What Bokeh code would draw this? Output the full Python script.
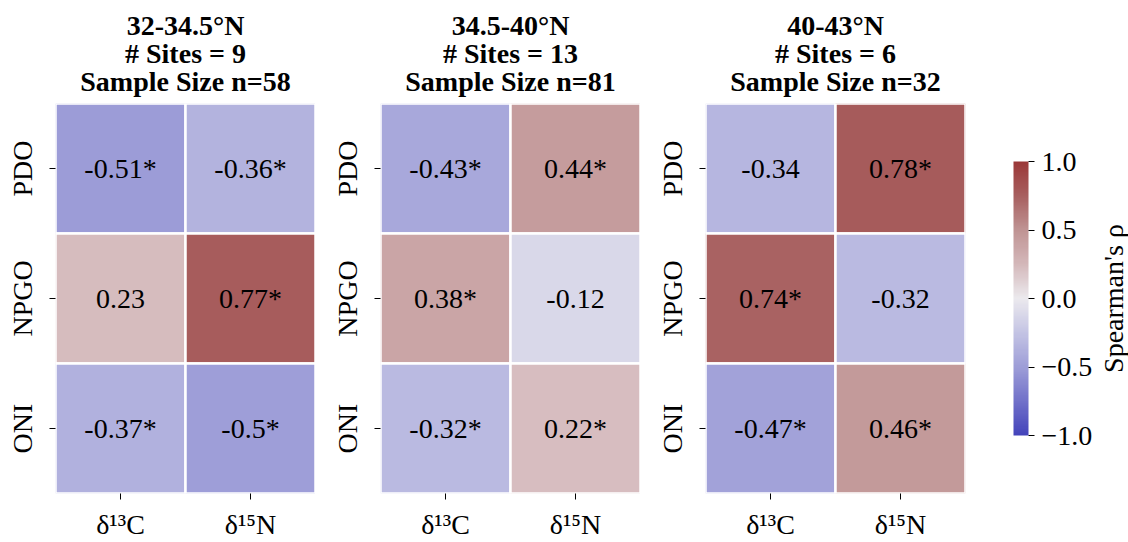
import numpy as np
from bokeh.plotting import figure
from bokeh.layouts import row, column
from bokeh.models import (ColumnDataSource, FactorRange, Range1d, LinearColorMapper, ColorBar,
                          FixedTicker, Title, CustomJSTickFormatter)
from bokeh.transform import transform
from bokeh.core.properties import value
from bokeh.embed import file_html
from bokeh.resources import INLINE

# ---------------- data ----------------
lat_bands = ["32-34.5°N", "34.5-40°N", "40-43°N"]
n_sites = [9, 13, 6]
sample_n = [58, 81, 32]
climate_indices = ["PDO", "NPGO", "ONI"]
isotopes = ["δ¹³C", "δ¹⁵N"]

# Spearman's rho, rows follow climate_indices
rho_band1_d13c = [-0.51, 0.23, -0.37]
rho_band1_d15n = [-0.36, 0.77, -0.5]
sig_band1_d13c = [True, False, True]
sig_band1_d15n = [True, True, True]

rho_band2_d13c = [-0.43, 0.38, -0.32]
rho_band2_d15n = [0.44, -0.12, 0.22]
sig_band2_d13c = [True, True, True]
sig_band2_d15n = [True, False, True]

rho_band3_d13c = [-0.34, 0.74, -0.47]
rho_band3_d15n = [0.78, -0.32, 0.46]
sig_band3_d13c = [False, True, True]
sig_band3_d15n = [True, False, True]

colorbar_ticks = [-1.0, -0.5, 0.0, 0.5, 1.0]
colorbar_title = "Spearman's ρ"

bands = [
    (rho_band1_d13c, rho_band1_d15n, sig_band1_d13c, sig_band1_d15n),
    (rho_band2_d13c, rho_band2_d15n, sig_band2_d13c, sig_band2_d15n),
    (rho_band3_d13c, rho_band3_d15n, sig_band3_d13c, sig_band3_d15n),
]

# ---------------- style ----------------
FONT = "Liberation Serif"
anchor_pos = [-1.0, -0.5, -0.25, 0.0, 0.25, 0.5, 0.75, 1.0]
anchor_rgb = [(68, 68, 187), (158, 158, 216), (196, 196, 228), (236, 234, 238),
              (212, 184, 186), (192, 148, 148), (168, 96, 96), (155, 56, 56)]
grid = np.linspace(-1, 1, 256)
chan = [np.interp(grid, anchor_pos, [c[i] for c in anchor_rgb]) for i in range(3)]
palette = ["#%02x%02x%02x" % (int(round(r)), int(round(g)), int(round(b)))
           for r, g, b in zip(*chan)]
mapper = LinearColorMapper(palette=palette, low=-1, high=1)

FRAME_W, FRAME_H = 260, 390
TOP, BOTTOM = 103, 46
TITLE_CENTERS = [78, 50, 22]   # px above the heatmap's top edge


def make_header(k, left_border):
    h = figure(x_range=Range1d(0, 1), y_range=Range1d(0, TOP),
               frame_width=FRAME_W, frame_height=TOP,
               min_border_left=left_border, min_border_right=0,
               min_border_top=0, min_border_bottom=0, title=None,
               x_axis_location=None, y_axis_location=None,
               toolbar_location=None, tools="", output_backend="svg")
    h.outline_line_color = None
    h.grid.visible = False
    lines = [lat_bands[k], f"# Sites = {n_sites[k]}", f"Sample Size n={sample_n[k]}"]
    h.text(x=[0.5] * 3, y=TITLE_CENTERS, text=lines,
           text_align="center", text_baseline="middle",
           text_font=value(FONT), text_font_size="28px",
           text_font_style="bold", text_color="black")
    return h


def make_panel(k, left_border, right_border):
    d13c, d15n, s13, s15 = bands[k]
    xs, ys, vals, labels = [], [], [], []
    for iso, vv, ss in ((isotopes[0], d13c, s13), (isotopes[1], d15n, s15)):
        for idx, v, s in zip(climate_indices, vv, ss):
            xs.append(iso)
            ys.append(idx)
            vals.append(v)
            labels.append(f"{v}" + ("*" if s else ""))
    src = ColumnDataSource(dict(iso=xs, idx=ys, rho=vals, label=labels))

    p = figure(x_range=FactorRange(*isotopes),
               y_range=FactorRange(*reversed(climate_indices)),
               frame_width=FRAME_W, frame_height=FRAME_H,
               min_border_left=left_border, min_border_right=right_border,
               min_border_top=0, min_border_bottom=BOTTOM, title=None,
               toolbar_location=None, tools="", output_backend="svg")
    p.rect(x="iso", y="idx", width=1, height=1, source=src,
           fill_color=transform("rho", mapper), line_color="white", line_width=2.5)
    p.text(x="iso", y="idx", text="label", source=src,
           text_align="center", text_baseline="middle",
           text_font=value(FONT), text_font_size="28px", text_color="black")

    p.outline_line_color = None
    p.grid.grid_line_color = None
    for ax in (p.xaxis, p.yaxis):
        ax.axis_line_color = None
        ax.major_tick_line_color = "black"
        ax.major_tick_in = 0
        ax.major_tick_out = 6
        ax.minor_tick_line_color = None
        ax.major_label_text_font = FONT
        ax.major_label_text_font_size = "28px"
        ax.major_label_text_color = "black"
    p.xaxis.major_label_standoff = 9
    p.yaxis.major_label_standoff = 12
    p.yaxis.major_label_orientation = "vertical"
    return p


p1 = make_panel(0, 55, 0)
p2 = make_panel(1, 65, 0)
p3 = make_panel(2, 65, 120)
h1 = make_header(0, 55)
h2 = make_header(1, 65)
h3 = make_header(2, 65)

cb = ColorBar(color_mapper=mapper, width=15, height=274, location=(48, 58),
              ticker=FixedTicker(ticks=colorbar_ticks),
              formatter=CustomJSTickFormatter(
                  code="return (tick < 0 ? '\\u2212' : '') + Math.abs(tick).toFixed(1);"),
              major_tick_in=0, major_tick_out=6, major_tick_line_color="black",
              minor_tick_line_color=None, bar_line_color=None,
              border_line_color=None, background_fill_color=None,
              margin=0, padding=0, label_standoff=7,
              major_label_text_font=FONT, major_label_text_font_size="28px",
              major_label_text_color="black")
p3.add_layout(cb, "right")

# narrow holder for the colour-bar caption (reads bottom-to-top on the left side)
p4 = figure(frame_width=1, frame_height=FRAME_H, min_border_left=0, min_border_right=0,
            min_border_top=TOP, min_border_bottom=BOTTOM, title=None,
            x_axis_location=None, y_axis_location=None,
            toolbar_location=None, tools="", output_backend="svg")
p4.outline_line_color = None
p4.grid.grid_line_color = None
p4.add_layout(Title(text=colorbar_title, align="center", text_font=FONT,
                    text_font_size="28px", text_font_style="normal",
                    text_color="black", standoff=0), "left")

layout = row(column(h1, p1), column(h2, p2), column(h3, p3), p4)
open("out.html", "w").write(file_html(layout, INLINE))
